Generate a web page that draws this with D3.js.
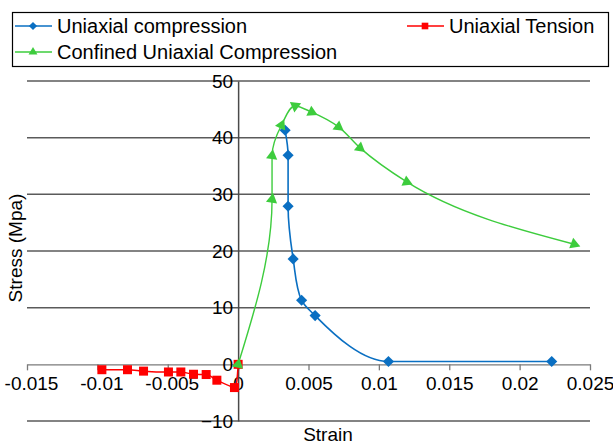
<!DOCTYPE html>
<html>
<head>
<meta charset="utf-8">
<script src="https://cdn.jsdelivr.net/npm/d3@7"></script>
<style>
  body { margin: 0; background: #fff; }
  text { font-family: "Liberation Sans", Arial, sans-serif; fill: #000; }
</style>
</head>
<body>
<div id="chart"></div>
<script>
/* global d3:false */

// series values
var compStrain = [0.00334, 0.00355, 0.00355, 0.00391, 0.00451, 0.00547, 0.01068, 0.02228];
var compStress = [41.3, 36.9, 27.9, 18.6, 11.3, 8.6, 0.5, 0.5];

var tensStrain = [0, -0.00026, -0.00151, -0.00227, -0.00317, -0.00407, -0.00495, -0.00672, -0.00786, -0.00968];
var tensStress = [0, -4.1, -2.8, -1.8, -1.75, -1.35, -1.35, -1.2, -0.95, -0.95];

var confStrain = [0, 0.00241, 0.00241, 0.00308, 0.00405, 0.00523, 0.00713, 0.00866, 0.01198, 0.02388];
var confStress = [0, 29.1, 36.8, 42.2, 45.6, 44.5, 41.9, 38.2, 32.2, 21.2];

var seriesNames = ["Uniaxial compression", "Uniaxial Tension", "Confined Uniaxial Compression"];
var xTicks = [-0.015, -0.01, -0.005, 0, 0.005, 0.01, 0.015, 0.02, 0.025];
var yTicks = [-10, 0, 10, 20, 30, 40, 50];

(function() {

var W = 613, H = 444;
var svg = d3.select("#chart").append("svg")
  .attr("width", W)
  .attr("height", H);

var x = d3.scaleLinear().domain([-0.015, 0.025]).range([27, 590]);
var y = d3.scaleLinear().domain([-10, 50]).range([421, 81]);

var BLUE = "#0a6fc2", RED = "#ff0000", GREEN = "#3dcc3d";

/* horizontal grid */
svg.append("g")
  .selectAll("line")
  .data(yTicks.filter(function(d) { return d !== 0; }))
  .enter().append("line")
  .attr("x1", x.range()[0]).attr("x2", x.range()[1])
  .attr("y1", function(d) { return y(d); })
  .attr("y2", function(d) { return y(d); })
  .style("stroke", "#5a5a5a")
  .style("stroke-width", 1.5);

/* x axis through zero */
var xAxis = svg.append("g")
  .attr("transform", "translate(0," + y(0) + ")")
  .call(d3.axisBottom(x)
    .tickValues(xTicks)
    .tickSize(6)
    .tickSizeOuter(0)
    .tickPadding(6)
    .tickFormat(function(d) { return String(+d.toFixed(3)); }));
xAxis.selectAll("path, line").style("stroke", "#7a7a7a").style("stroke-width", 1.3);
xAxis.selectAll("text")
  .style("font-size", "19px")
  .attr("font-family", null)
  .attr("dx", function(d) { return d < 0 ? 4 : 0; });

/* y axis at x = 0 */
var yAxis = svg.append("g")
  .attr("transform", "translate(" + x(0) + ",0)")
  .call(d3.axisLeft(y)
    .tickValues(yTicks)
    .tickSize(0)
    .tickSizeOuter(0)
    .tickPadding(5));
yAxis.select("path").style("stroke", "#4a4a4a").style("stroke-width", 1.5);
yAxis.selectAll("text").style("font-size", "19px").attr("font-family", null);

/* smoothing: parametric monotone cubic, chord-length parameter (pixel space) */
function smoothPath(data) {
  var p = data.map(function(d) { return [x(d[0]), y(d[1])]; });
  var n = p.length, t = [0], i;
  for (i = 1; i < n; i++) {
    t.push(t[i - 1] + Math.hypot(p[i][0] - p[i - 1][0], p[i][1] - p[i - 1][1]));
  }
  function sign(v) { return v < 0 ? -1 : 1; }
  function tangents(c) {
    var m = new Array(n);
    for (i = 1; i < n - 1; i++) {
      var h0 = t[i] - t[i - 1], h1 = t[i + 1] - t[i];
      var s0 = (p[i][c] - p[i - 1][c]) / h0, s1 = (p[i + 1][c] - p[i][c]) / h1;
      var q = (s0 * h1 + s1 * h0) / (h0 + h1);
      m[i] = (sign(s0) + sign(s1)) * Math.min(Math.abs(s0), Math.abs(s1), 0.5 * Math.abs(q)) || 0;
    }
    var a = (p[1][c] - p[0][c]) / (t[1] - t[0]);
    var b = (p[n - 1][c] - p[n - 2][c]) / (t[n - 1] - t[n - 2]);
    m[0] = n > 2 ? (3 * a - m[1]) / 2 : a;
    m[n - 1] = n > 2 ? (3 * b - m[n - 2]) / 2 : b;
    return m;
  }
  var mx = tangents(0), my = tangents(1);
  var path = d3.path();
  path.moveTo(p[0][0], p[0][1]);
  for (i = 0; i < n - 1; i++) {
    var h = (t[i + 1] - t[i]) / 3;
    path.bezierCurveTo(
      p[i][0] + mx[i] * h, p[i][1] + my[i] * h,
      p[i + 1][0] - mx[i + 1] * h, p[i + 1][1] - my[i + 1] * h,
      p[i + 1][0], p[i + 1][1]);
  }
  return path.toString();
}

var comp = d3.zip(compStrain, compStress);
var tens = d3.zip(tensStrain, tensStress);
var conf = d3.zip(confStrain, confStress);

svg.append("path").datum(tens)
  .attr("d", smoothPath).style("fill", "none")
  .style("stroke", RED).style("stroke-width", 1.5);
svg.selectAll(".tens").data(tens).enter().append("rect")
  .attr("class", "tens")
  .attr("x", function(d) { return x(d[0]) - 4.5; })
  .attr("y", function(d) { return y(d[1]) - 4.5; })
  .attr("width", 9).attr("height", 9)
  .style("fill", RED);

svg.append("path").datum(comp)
  .attr("d", smoothPath).style("fill", "none")
  .style("stroke", BLUE).style("stroke-width", 1.6);
svg.selectAll(".comp").data(comp).enter().append("path")
  .attr("class", "comp")
  .attr("d", d3.symbol(d3.symbolSquare, 62))
  .attr("transform", function(d) {
    return "translate(" + x(d[0]) + "," + y(d[1]) + ") rotate(45)";
  })
  .style("fill", BLUE);

svg.append("path").datum(conf)
  .attr("d", smoothPath).style("fill", "none")
  .style("stroke", GREEN).style("stroke-width", 1.4);

// triangles follow the direction of the line
function heading(pts, i) {
  var a = pts[Math.max(0, i - 1)], b = pts[Math.min(pts.length - 1, i + 1)];
  return Math.atan2(y(b[1]) - y(a[1]), x(b[0]) - x(a[0])) * 180 / Math.PI + 90;
}
svg.selectAll(".conf").data(conf).enter().append("path")
  .attr("class", "conf")
  .attr("d", d3.symbol(d3.symbolTriangle, 55))
  .attr("transform", function(d, i) {
    return "translate(" + x(d[0]) + "," + y(d[1]) + ") rotate(" + heading(conf, i) + ")";
  })
  .style("fill", GREEN);

/* axis titles */
svg.append("text")
  .attr("transform", "translate(22,248) rotate(-90)")
  .attr("text-anchor", "middle")
  .style("font-size", "19px")
  .text("Stress (Mpa)");
svg.append("text")
  .attr("x", 328).attr("y", 441)
  .attr("text-anchor", "middle")
  .style("font-size", "19px")
  .text("Strain");

/* legend */
var legend = svg.append("g");
legend.append("rect")
  .attr("x", 12.5).attr("y", 12.5)
  .attr("width", 596).attr("height", 54)
  .style("fill", "#fff")
  .style("stroke", "#000")
  .style("stroke-width", 1.2);

var items = [
  { name: seriesNames[0], color: BLUE,  lx: 15,  ly: 26, shape: "diamond" },
  { name: seriesNames[1], color: RED,   lx: 407, ly: 26, shape: "square" },
  { name: seriesNames[2], color: GREEN, lx: 15,  ly: 52, shape: "triangle" }
];
var item = legend.selectAll(".item").data(items).enter().append("g")
  .attr("class", "item")
  .attr("transform", function(d) { return "translate(" + d.lx + "," + d.ly + ")"; });
item.append("line")
  .attr("x1", 0).attr("x2", 37)
  .style("stroke", function(d) { return d.color; })
  .style("stroke-width", 1.6);
item.append("path")
  .attr("d", function(d) {
    if (d.shape === "triangle") return d3.symbol(d3.symbolTriangle, 34)();
    return d3.symbol(d3.symbolSquare, d.shape === "diamond" ? 34 : 44)();
  })
  .attr("transform", function(d) {
    return "translate(18,0)" + (d.shape === "diamond" ? " rotate(45)" : "");
  })
  .style("fill", function(d) { return d.color; });
item.append("text")
  .attr("x", 42).attr("y", 7)
  .style("font-size", "20px")
  .text(function(d) { return d.name; });

})();
</script>
</body>
</html>
